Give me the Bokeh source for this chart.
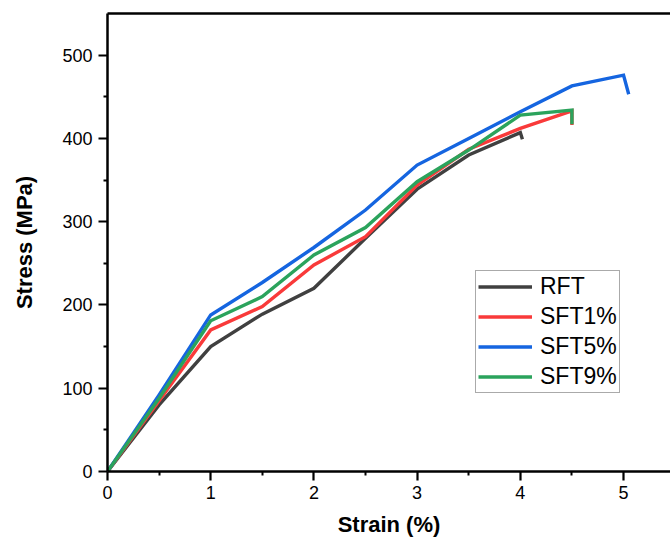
from bokeh.plotting import figure
from bokeh.models import LinearAxis, Legend, LegendItem, FixedTicker, Range1d
from bokeh.embed import file_html
from bokeh.resources import INLINE

# ---- data ----
rft_x = [0, 0.5, 1, 1.5, 2, 2.5, 3, 3.5, 4, 4.02]
rft_y = [0, 80, 150, 189, 220, 280, 339, 380, 407, 399]

sft1_x = [0, 0.5, 1, 1.5, 2, 2.5, 3, 3.5, 4, 4.5, 4.5]
sft1_y = [0, 85, 170, 198, 248, 282, 344, 387, 412, 433, 416]

sft5_x = [0, 0.5, 1, 1.5, 2, 2.5, 3, 3.5, 4, 4.5, 5, 5.05]
sft5_y = [0, 92, 188, 227, 269, 314, 368, 400, 432, 463, 476, 453]

sft9_x = [0, 0.5, 1, 1.5, 2, 2.5, 3, 3.5, 4, 4.5, 4.5]
sft9_y = [0, 88, 181, 210, 260, 293, 348, 386, 428, 434, 417]

labels = ["RFT", "SFT1%", "SFT5%", "SFT9%"]
colors = ["#404040", "#F93A3A", "#1565E0", "#2BA35C"]

x_ticks = [0, 1, 2, 3, 4, 5]
y_ticks = [0, 100, 200, 300, 400, 500]

FONT = "Liberation Sans"

p = figure(width=670, height=540, output_backend="svg", toolbar_location=None,
           x_range=Range1d(0, 5.455), y_range=Range1d(0, 550),
           min_border_left=107, min_border_right=0, min_border_top=13,
           min_border_bottom=69, outline_line_color=None)
p.xgrid.visible = False
p.ygrid.visible = False
p.background_fill_color = "white"
p.border_fill_color = "white"

series = [(rft_x, rft_y), (sft1_x, sft1_y), (sft5_x, sft5_y), (sft9_x, sft9_y)]
renderers = []
for (xs, ys), c in zip(series, colors):
    r = p.line(xs, ys, line_color=c, line_width=3.4, line_join="miter")
    renderers.append(r)

for ax, ticks, minor in ((p.xaxis[0], x_ticks, [0.5, 1.5, 2.5, 3.5, 4.5]),
                         (p.yaxis[0], y_ticks, [50, 150, 250, 350, 450])):
    ax.ticker = FixedTicker(ticks=ticks, minor_ticks=minor)
    ax.axis_line_width = 2.5
    ax.axis_line_color = "black"
    ax.major_tick_line_width = 2.2
    ax.minor_tick_line_width = 2
    ax.major_tick_line_color = "black"
    ax.minor_tick_line_color = "black"
    ax.major_tick_in = 0
    ax.minor_tick_in = 0
    ax.major_tick_out = 9
    ax.minor_tick_out = 4
    ax.major_label_text_font = FONT
    ax.major_label_text_font_size = "18px"
    ax.major_label_text_color = "black"
    ax.axis_label_text_font = FONT
    ax.axis_label_text_font_size = "22px"
    ax.axis_label_text_font_style = "bold"
    ax.axis_label_text_color = "black"

p.xaxis.axis_label = "Strain (%)"
p.yaxis.axis_label = "Stress (MPa)"
p.xaxis.major_label_standoff = 5
p.xaxis.axis_label_standoff = 10
p.yaxis.major_label_standoff = 6
p.yaxis.axis_label_standoff = 22

top = LinearAxis(ticker=FixedTicker(ticks=[], minor_ticks=[]),
                 axis_line_width=2.5, axis_line_color="black",
                 major_tick_line_color=None, minor_tick_line_color=None,
                 major_tick_out=0, major_tick_in=0, minor_tick_out=0, minor_tick_in=0)
p.add_layout(top, "above")

legend = Legend(items=[LegendItem(label=l, renderers=[r]) for l, r in zip(labels, renderers)],
                location=(368, 78), label_text_font=FONT, label_text_font_size="23px",
                label_text_color="black", label_height=27, glyph_height=27, glyph_width=54,
                label_standoff=8, spacing=3, padding=2, margin=0,
                border_line_color="#555555", border_line_width=1,
                background_fill_color="white", background_fill_alpha=1)
p.add_layout(legend, "center")

open("out.html", "w").write(file_html(p, INLINE))
